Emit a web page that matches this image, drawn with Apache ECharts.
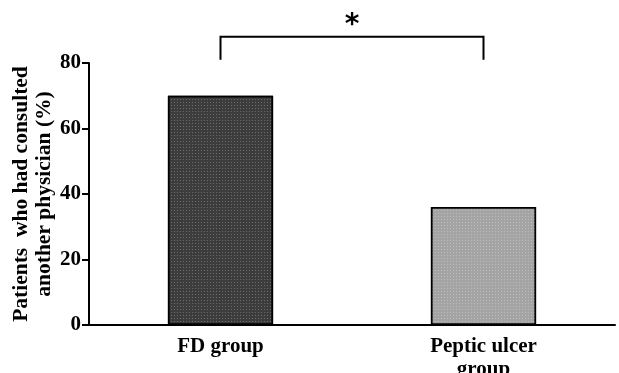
<!DOCTYPE html>
<html>
<head>
<meta charset="utf-8">
<script src="https://cdn.jsdelivr.net/npm/echarts@6/dist/echarts.min.js"></script>
<style>
  html, body { margin: 0; padding: 0; background: #fff; }
  #chart { width: 619px; height: 373px; }
</style>
</head>
<body>
<div id="chart"></div>
<script>
var categories = ['FD group', 'Peptic ulcer\ngroup'];
var values = [70, 36];
var barColors = ['#3c3c3c', '#a4a4a4'];
var yTicks = [0, 20, 40, 60, 80];
// significance bracket: [from category, to category, top, foot, star level]
var bracket = [0, 1, 88, 81, 91.5];

var font = 'Liberation Serif, Times New Roman, serif';
var myChart = echarts.init(document.getElementById('chart'));

var option = {
    animation: false,
    backgroundColor: '#fff',
    grid: { left: 89, right: 4, top: 63, bottom: 48, outerBoundsMode: 'none' },
    xAxis: [{
        type: 'category',
        data: categories,
        axisLine: { lineStyle: { color: '#000', width: 2 } },
        axisTick: { inside: true, length: 6, lineStyle: { color: '#000', width: 2 } },
        axisLabel: { show: false }
    }, {
        type: 'category',
        data: categories,
        position: 'bottom',
        axisLine: { show: false },
        axisTick: { alignWithLabel: true, length: 6, lineStyle: { color: '#000', width: 2 } },
        axisLabel: {
            color: '#000', fontFamily: font, fontWeight: 'bold', fontSize: 21,
            lineHeight: 23, margin: 10
        }
    }],
    yAxis: {
        type: 'value',
        min: yTicks[0],
        max: yTicks[yTicks.length - 1],
        interval: 20,
        name: 'Patients  who had consulted\nanother physician (%)',
        nameLocation: 'middle',
        nameGap: 33,
        nameMoveOverlap: false,
        nameTextStyle: { color: '#000', fontFamily: font, fontWeight: 'bold', fontSize: 21.5, lineHeight: 23 },
        axisLine: { show: true, lineStyle: { color: '#000', width: 2 } },
        axisTick: { show: true, length: 7, lineStyle: { color: '#000', width: 2 } },
        axisLabel: { color: '#000', fontFamily: font, fontWeight: 'bold', fontSize: 21, margin: 8 },
        splitLine: { show: false }
    },
    series: [{
        type: 'bar',
        barWidth: '40%',
        data: values.map(function (v, i) {
            return { value: v, itemStyle: { color: barColors[i] } };
        }),
        itemStyle: {
            borderColor: '#000',
            borderWidth: 1.5,
            decal: {
                symbol: 'rect', symbolSize: 1, dashArrayX: [1, 2], dashArrayY: [1, 2],
                color: 'rgba(255,255,255,0.25)', rotation: 0
            }
        }
    }, {
        type: 'custom',
        clip: false,
        silent: true,
        data: [bracket],
        encode: { x: 0, y: 2 },
        renderItem: function (params, api) {
            var a = api.coord([api.value(0), api.value(3)]);
            var b = api.coord([api.value(0), api.value(2)]);
            var c = api.coord([api.value(1), api.value(2)]);
            var d = api.coord([api.value(1), api.value(3)]);
            var s = api.coord([api.value(0), api.value(4)]);
            return {
                type: 'group',
                children: [{
                    type: 'polyline',
                    shape: { points: [a, b, c, d] },
                    style: { stroke: '#000', lineWidth: 2, fill: null }
                }, {
                    type: 'text',
                    x: (b[0] + c[0]) / 2, y: s[1],
                    style: {
                        text: '*', fill: '#000', fontFamily: 'DejaVu Sans',
                        fontWeight: 'bold', fontSize: 28, align: 'center', verticalAlign: 'middle'
                    }
                }]
            };
        }
    }]
};

myChart.setOption(option);
</script>
</body>
</html>
